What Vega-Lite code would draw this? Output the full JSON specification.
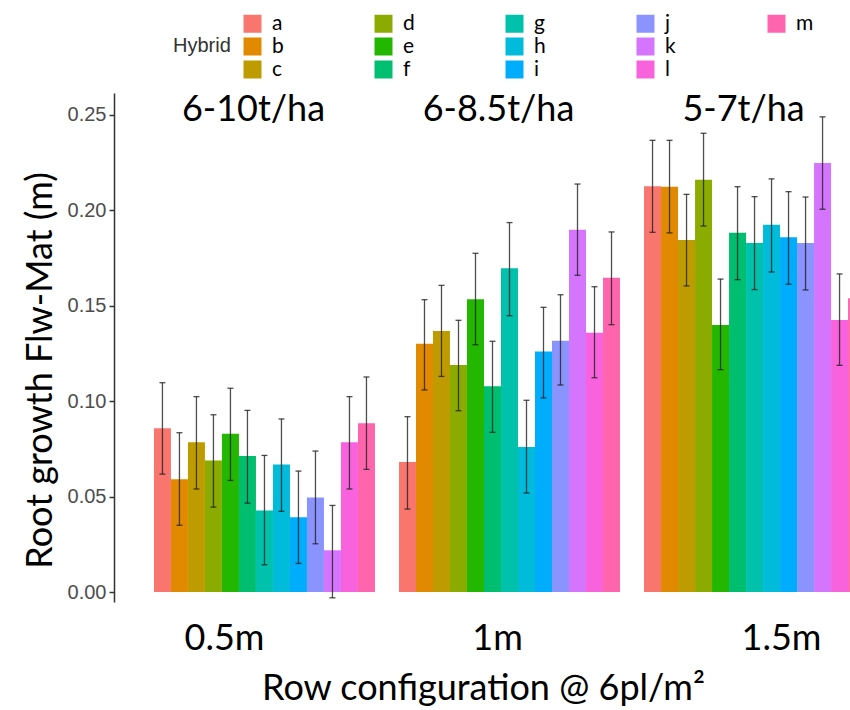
{
  "$schema": "https://vega.github.io/schema/vega-lite/v6.json",
  "autosize": {"type": "none"},
  "width": 736,
  "height": 509,
  "padding": {"left": 114, "top": 93, "right": 0, "bottom": 108},
  "background": "white",
  "config": {"view": {"stroke": null}},
  "datasets": {
    "bars": [
      {"config": "0.5m", "hybrid": "a", "value": 0.0858, "lo": 0.0618, "hi": 0.1097},
      {"config": "0.5m", "hybrid": "b", "value": 0.0591, "lo": 0.0350, "hi": 0.0835},
      {"config": "0.5m", "hybrid": "c", "value": 0.0785, "lo": 0.0540, "hi": 0.1024},
      {"config": "0.5m", "hybrid": "d", "value": 0.0690, "lo": 0.0445, "hi": 0.0929},
      {"config": "0.5m", "hybrid": "e", "value": 0.0830, "lo": 0.0585, "hi": 0.1068},
      {"config": "0.5m", "hybrid": "f", "value": 0.0713, "lo": 0.0466, "hi": 0.0952},
      {"config": "0.5m", "hybrid": "g", "value": 0.0428, "lo": 0.0143, "hi": 0.0716},
      {"config": "0.5m", "hybrid": "h", "value": 0.0669, "lo": 0.0423, "hi": 0.0907},
      {"config": "0.5m", "hybrid": "i", "value": 0.0392, "lo": 0.0150, "hi": 0.0634},
      {"config": "0.5m", "hybrid": "j", "value": 0.0496, "lo": 0.0253, "hi": 0.0739},
      {"config": "0.5m", "hybrid": "k", "value": 0.0219, "lo": -0.0030, "hi": 0.0454},
      {"config": "0.5m", "hybrid": "l", "value": 0.0785, "lo": 0.0540, "hi": 0.1024},
      {"config": "0.5m", "hybrid": "m", "value": 0.0884, "lo": 0.0643, "hi": 0.1127},
      {"config": "1m", "hybrid": "a", "value": 0.0681, "lo": 0.0435, "hi": 0.0919},
      {"config": "1m", "hybrid": "b", "value": 0.1301, "lo": 0.1059, "hi": 0.1532},
      {"config": "1m", "hybrid": "c", "value": 0.1368, "lo": 0.1130, "hi": 0.1607},
      {"config": "1m", "hybrid": "d", "value": 0.1190, "lo": 0.0950, "hi": 0.1424},
      {"config": "1m", "hybrid": "e", "value": 0.1534, "lo": 0.1296, "hi": 0.1775},
      {"config": "1m", "hybrid": "f", "value": 0.1078, "lo": 0.0837, "hi": 0.1314},
      {"config": "1m", "hybrid": "g", "value": 0.1697, "lo": 0.1448, "hi": 0.1936},
      {"config": "1m", "hybrid": "h", "value": 0.0760, "lo": 0.0519, "hi": 0.1005},
      {"config": "1m", "hybrid": "i", "value": 0.1261, "lo": 0.1017, "hi": 0.1492},
      {"config": "1m", "hybrid": "j", "value": 0.1317, "lo": 0.1085, "hi": 0.1558},
      {"config": "1m", "hybrid": "k", "value": 0.1899, "lo": 0.1660, "hi": 0.2138},
      {"config": "1m", "hybrid": "l", "value": 0.1359, "lo": 0.1123, "hi": 0.1600},
      {"config": "1m", "hybrid": "m", "value": 0.1647, "lo": 0.1401, "hi": 0.1887},
      {"config": "1.5m", "hybrid": "a", "value": 0.2126, "lo": 0.1885, "hi": 0.2367},
      {"config": "1.5m", "hybrid": "b", "value": 0.2124, "lo": 0.1882, "hi": 0.2367},
      {"config": "1.5m", "hybrid": "c", "value": 0.1845, "lo": 0.1604, "hi": 0.2084},
      {"config": "1.5m", "hybrid": "d", "value": 0.2161, "lo": 0.1918, "hi": 0.2404},
      {"config": "1.5m", "hybrid": "e", "value": 0.1399, "lo": 0.1165, "hi": 0.1640},
      {"config": "1.5m", "hybrid": "f", "value": 0.1883, "lo": 0.1637, "hi": 0.2124},
      {"config": "1.5m", "hybrid": "g", "value": 0.1829, "lo": 0.1585, "hi": 0.2072},
      {"config": "1.5m", "hybrid": "h", "value": 0.1925, "lo": 0.1677, "hi": 0.2165},
      {"config": "1.5m", "hybrid": "i", "value": 0.1859, "lo": 0.1613, "hi": 0.2098},
      {"config": "1.5m", "hybrid": "j", "value": 0.1829, "lo": 0.1583, "hi": 0.2070},
      {"config": "1.5m", "hybrid": "k", "value": 0.2248, "lo": 0.2006, "hi": 0.2490},
      {"config": "1.5m", "hybrid": "l", "value": 0.1426, "lo": 0.1188, "hi": 0.1667},
      {"config": "1.5m", "hybrid": "m", "value": 0.1540, "lo": 0.1300, "hi": 0.1780}
    ],
    "notes": [
      {"config": "0.5m", "label": "6-10t/ha"},
      {"config": "1m", "label": "6-8.5t/ha"},
      {"config": "1.5m", "label": "5-7t/ha"}
    ]
  },
  "layer": [
    {
      "data": {"name": "bars"},
      "mark": {"type": "bar", "clip": true},
      "encoding": {
        "x": {
          "field": "config", "type": "nominal",
          "scale": {"type": "band", "domain": ["0.5m", "1m", "1.5m"], "range": [0, 791], "paddingInner": 0.098, "paddingOuter": 0.163},
          "axis": {
            "domain": false, "ticks": false, "tickSize": 0, "labelAngle": 0,
            "labelFont": "Lato", "labelFontSize": 36, "labelColor": "black",
            "labelBaseline": "middle", "labelPadding": 36,
            "labelOffset": {"condition": [{"test": "datum.value === '0.5m'", "value": -40}, {"test": "datum.value === '1.5m'", "value": 27}], "value": -12},
            "title": "Row configuration @ 6pl/m²",
            "titleFont": "Lato", "titleFontSize": 36, "titleFontWeight": "normal", "titleColor": "black",
            "titleX": 369, "titleY": 86, "titleBaseline": "middle", "titleAlign": "center", "titleAnchor": null
          }
        },
        "xOffset": {
          "field": "hybrid", "type": "nominal",
          "sort": ["a","b","c","d","e","f","g","h","i","j","k","l","m"],
          "scale": {"paddingInner": 0, "paddingOuter": 0}
        },
        "y": {
          "field": "value", "type": "quantitative",
          "scale": {"domain": [-0.0052, 0.2615], "nice": false, "zero": false},
          "axis": {
            "values": [0, 0.05, 0.1, 0.15, 0.2, 0.25], "format": ".2f", "grid": false,
            "labelFont": "Liberation Sans", "labelFontSize": 20, "labelColor": "#4d4d4d", "labelPadding": 3,
            "tickColor": "#333333", "tickSize": 5, "tickWidth": 1.5,
            "domainColor": "#333333", "domainWidth": 1.5,
            "title": "Root growth Flw-Mat (m)",
            "titleFont": "Lato", "titleFontSize": 36, "titleFontWeight": "normal", "titleColor": "black",
            "titleAngle": 270, "titleX": -74, "titleY": 277, "titleBaseline": "middle", "titleAlign": "center", "titleAnchor": null
          }
        },
        "color": {
          "field": "hybrid", "type": "nominal",
          "scale": {
            "domain": ["a","b","c","d","e","f","g","h","i","j","k","l","m"," ","  "],
            "range": ["#F8766D","#E18A00","#BE9C00","#8CAB00","#24B700","#00BE70","#00C1AB","#00BBDA","#00ACFC","#8B93FF","#D575FE","#F962DD","#FF65AC","#FFFFFF","#FFFFFF"]
          },
          "legend": {
            "title": "Hybrid", "orient": "none", "legendX": 59, "legendY": -80,
            "direction": "vertical",
            "columns": 5, "gridAlign": "all", "columnPadding": 83, "rowPadding": 1, "padding": 0,
            "symbolType": "square", "symbolSize": 324, "symbolStrokeWidth": 0, "symbolOpacity": 1,
            "labelFont": "Lato", "labelFontSize": 21, "labelColor": "black", "labelOffset": 9,
            "titleFont": "Liberation Sans", "titleFontSize": 20, "titleFontWeight": "normal", "titleColor": "#333333",
            "titleOrient": "left", "titleAnchor": "middle", "titleBaseline": "middle", "titlePadding": 11
          }
        }
      }
    },
    {
      "data": {"name": "bars"},
      "mark": {"type": "rule", "clip": true, "color": "#222222", "opacity": 0.8, "strokeWidth": 1.3},
      "encoding": {
        "x": {"field": "config", "type": "nominal"},
        "xOffset": {"field": "hybrid", "type": "nominal", "sort": ["a","b","c","d","e","f","g","h","i","j","k","l","m"]},
        "y": {"field": "lo", "type": "quantitative"},
        "y2": {"field": "hi"}
      }
    },
    {
      "data": {"name": "bars"},
      "mark": {"type": "tick", "clip": true, "color": "#222222", "opacity": 0.8, "thickness": 1.3, "size": 6, "orient": "horizontal"},
      "encoding": {
        "x": {"field": "config", "type": "nominal"},
        "xOffset": {"field": "hybrid", "type": "nominal", "sort": ["a","b","c","d","e","f","g","h","i","j","k","l","m"]},
        "y": {"field": "hi", "type": "quantitative"}
      }
    },
    {
      "data": {"name": "bars"},
      "mark": {"type": "tick", "clip": true, "color": "#222222", "opacity": 0.8, "thickness": 1.3, "size": 6, "orient": "horizontal"},
      "encoding": {
        "x": {"field": "config", "type": "nominal"},
        "xOffset": {"field": "hybrid", "type": "nominal", "sort": ["a","b","c","d","e","f","g","h","i","j","k","l","m"]},
        "y": {"field": "lo", "type": "quantitative"}
      }
    },
    {
      "data": {"name": "notes"},
      "mark": {"type": "text", "font": "Lato", "fontSize": 36, "color": "black", "align": "center", "baseline": "middle", "dx": -11},
      "encoding": {
        "x": {"field": "config", "type": "nominal"},
        "y": {"datum": 0.2526, "type": "quantitative"},
        "text": {"field": "label", "type": "nominal"}
      }
    }
  ]
}
